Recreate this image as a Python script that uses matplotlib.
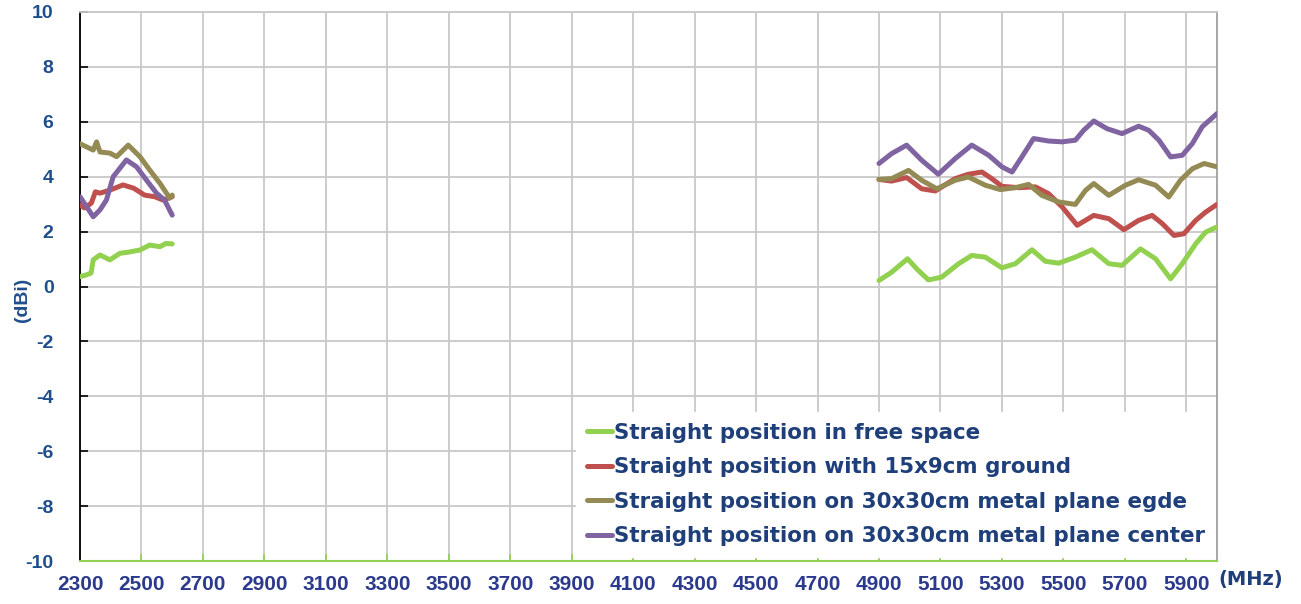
import matplotlib
matplotlib.use("Agg")
import matplotlib.pyplot as plt

# ---------------------------------------------------------------
# Dados (frequência em MHz, ganho em dBi)
# ---------------------------------------------------------------
freq_low_green = [2300, 2320, 2336, 2343, 2365, 2397, 2430, 2457, 2495, 2527, 2560, 2580, 2600]
gain_low_green = [0.36, 0.42, 0.49, 0.97, 1.15, 0.97, 1.21, 1.25, 1.33, 1.51, 1.45, 1.57, 1.55]

freq_low_red = [2300, 2315, 2337, 2350, 2365, 2397, 2440, 2475, 2510, 2543, 2570, 2600]
gain_low_red = [2.97, 2.86, 3.04, 3.45, 3.40, 3.51, 3.70, 3.58, 3.33, 3.27, 3.15, 3.27]

freq_low_olive = [2300, 2343, 2354, 2365, 2397, 2419, 2457, 2495, 2527, 2560, 2592, 2600]
gain_low_olive = [5.20, 4.97, 5.27, 4.90, 4.86, 4.73, 5.15, 4.73, 4.24, 3.76, 3.22, 3.33]

freq_low_purple = [2300, 2322, 2343, 2365, 2386, 2408, 2451, 2484, 2516, 2549, 2575, 2600]
gain_low_purple = [3.27, 2.90, 2.54, 2.79, 3.15, 4.00, 4.61, 4.36, 3.88, 3.40, 3.15, 2.60]

freq_hi_green = [4900, 4941, 4993, 5023, 5061, 5104, 5159, 5202, 5246, 5300, 5344, 5398,
                 5441, 5485, 5539, 5593, 5648, 5691, 5751, 5800, 5849, 5887, 5931, 5963, 6000]
gain_hi_green = [0.22, 0.52, 1.01, 0.64, 0.24, 0.34, 0.83, 1.13, 1.07, 0.68, 0.83, 1.34,
                 0.92, 0.85, 1.07, 1.34, 0.83, 0.77, 1.37, 1.01, 0.28, 0.83, 1.56, 1.98, 2.17]

freq_hi_red = [4900, 4941, 4990, 5039, 5083, 5148, 5191, 5235, 5267, 5300, 5355, 5409, 5452,
               5496, 5545, 5599, 5648, 5697, 5745, 5789, 5822, 5860, 5892, 5931, 5963, 6000]
gain_hi_red = [3.90, 3.84, 3.97, 3.56, 3.48, 3.93, 4.09, 4.17, 3.93, 3.65, 3.60, 3.63, 3.38,
               2.90, 2.23, 2.59, 2.47, 2.07, 2.41, 2.59, 2.29, 1.86, 1.92, 2.41, 2.71, 2.99]

freq_hi_olive = [4900, 4941, 4996, 5039, 5088, 5148, 5191, 5246, 5295, 5344, 5387, 5430, 5485,
                 5539, 5572, 5599, 5648, 5702, 5745, 5800, 5843, 5881, 5920, 5958, 6000]
gain_hi_olive = [3.90, 3.93, 4.23, 3.87, 3.56, 3.87, 3.99, 3.69, 3.53, 3.60, 3.72, 3.32, 3.08,
                 2.99, 3.50, 3.75, 3.32, 3.69, 3.89, 3.69, 3.26, 3.87, 4.29, 4.48, 4.36]

freq_hi_purple = [4900, 4941, 4990, 5039, 5093, 5148, 5202, 5257, 5300, 5333, 5365, 5403, 5452,
                  5496, 5539, 5566, 5599, 5642, 5691, 5745, 5778, 5811, 5849, 5887, 5920, 5952, 6000]
gain_hi_purple = [4.48, 4.84, 5.15, 4.60, 4.09, 4.66, 5.15, 4.78, 4.36, 4.17, 4.72, 5.39, 5.30,
                  5.27, 5.33, 5.69, 6.03, 5.75, 5.57, 5.84, 5.69, 5.33, 4.72, 4.78, 5.21, 5.82, 6.30]

legend_labels = [
    "Straight position in free space",
    "Straight position with 15x9cm ground",
    "Straight position on 30x30cm metal plane egde",
    "Straight position on 30x30cm metal plane center",
]
x_ticks = list(range(2300, 6000, 200))
y_ticks = list(range(-10, 11, 2))

# ---------------------------------------------------------------
# Estilo
# ---------------------------------------------------------------
COR_VERDE = "#92d050"
COR_VERMELHO = "#c0504d"
COR_OLIVA = "#948a54"
COR_ROXO = "#8064a2"
COR_TEXTO_X = "#2b3a8c"
COR_TEXTO_Y = "#1f4e8c"
COR_LEGENDA = "#1f3f7a"

plt.rcParams["font.family"] = ["Liberation Sans", "DejaVu Sans"]
plt.rcParams["axes.unicode_minus"] = False


def main():
    fig = plt.figure(figsize=(13.01, 6.04), dpi=100)
    ax = fig.add_axes([80 / 1301, 1 - 561 / 604, 1137 / 1301, 549 / 604])

    series = [
        (freq_low_green, gain_low_green, freq_hi_green, gain_hi_green, COR_VERDE),
        (freq_low_red, gain_low_red, freq_hi_red, gain_hi_red, COR_VERMELHO),
        (freq_low_olive, gain_low_olive, freq_hi_olive, gain_hi_olive, COR_OLIVA),
        (freq_low_purple, gain_low_purple, freq_hi_purple, gain_hi_purple, COR_ROXO),
    ]
    handles = []
    for (fl, gl, fh, gh, cor), rotulo in zip(series, legend_labels):
        h, = ax.plot(fl, gl, color=cor, lw=3.6, solid_joinstyle="round",
                     solid_capstyle="round", label=rotulo, zorder=3)
        ax.plot(fh, gh, color=cor, lw=3.6, solid_joinstyle="round",
                solid_capstyle="round", zorder=3)
        handles.append(h)

    ax.set_xlim(2300, 6000)
    ax.set_ylim(-10, 10)
    ax.set_xticks(x_ticks)
    ax.set_yticks(y_ticks)
    ax.grid(True, color="#c8c8c8", lw=1.3)

    # eixos
    ax.spines["left"].set_color("black")
    ax.spines["left"].set_linewidth(1.3)
    ax.spines["bottom"].set_color(COR_VERDE)
    ax.spines["bottom"].set_linewidth(1.5)
    ax.spines["top"].set_color("#c8c8c8")
    ax.spines["top"].set_linewidth(1.3)
    ax.spines["right"].set_color("#a0a0a0")
    ax.spines["right"].set_linewidth(1.3)

    ax.tick_params(axis="y", direction="in", length=6, width=1.2, color="black",
                   pad=19, labelsize=14, labelcolor=COR_TEXTO_Y)
    ax.tick_params(axis="x", direction="in", length=5, width=1.2, color=COR_VERDE,
                   pad=10, labelsize=15, labelcolor=COR_TEXTO_X)
    for lbl in ax.get_xticklabels() + ax.get_yticklabels():
        lbl.set_fontweight("bold")

    fig.text(22 / 1301, 1 - 300 / 604, "(dBi)", rotation=90, ha="center", va="center",
             fontsize=14, fontweight="bold", color=COR_TEXTO_Y)
    fig.text(1251 / 1301, 1 - 579 / 604, "(MHz)", ha="center", va="center",
             fontsize=14, fontweight="bold", color=COR_LEGENDA,
             family=["DejaVu Sans"])

    leg = ax.legend(handles=handles, loc="upper left",
                    bbox_to_anchor=((576 - 80) / 1137, (561 - 412) / 549),
                    frameon=True, fancybox=False, framealpha=1, facecolor="white",
                    edgecolor="white",
                    prop={"size": 15.4, "weight": "bold", "family": "DejaVu Sans"},
                    handlelength=1.2, handletextpad=0.08, labelspacing=0.68,
                    borderpad=0.5, borderaxespad=0)
    for t in leg.get_texts():
        t.set_color(COR_LEGENDA)
    # legenda por cima da grade, mas por baixo das bordas
    leg.set_zorder(2.4)

    fig.savefig("out.png", dpi=100)


if __name__ == "__main__":
    main()
